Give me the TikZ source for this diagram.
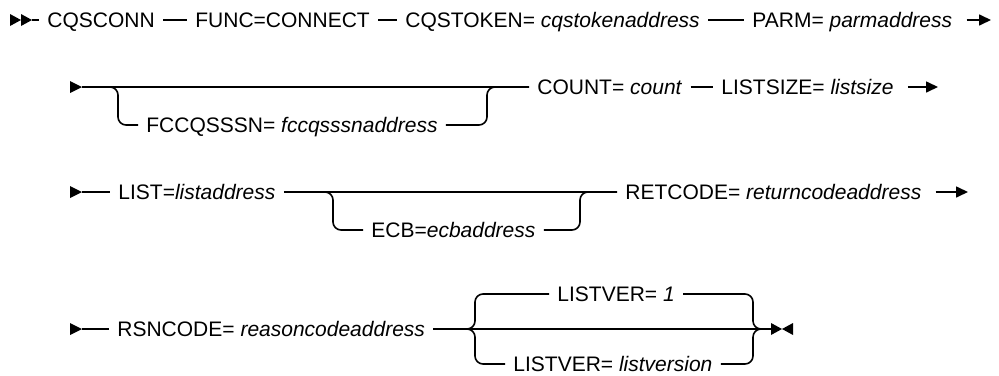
\documentclass[tikz,border=0pt]{standalone}
\usepackage{fontspec}
\setmainfont{Liberation Sans}
\usetikzlibrary{arrows.meta}

\begin{document}
\begin{tikzpicture}[x=0.5pt,y=-0.5pt,
    rail/.style={line width=0.8pt},
    fork/.style={rail,rounded corners=4pt},
    tok/.style={anchor=west,inner xsep=4pt,inner ysep=0pt,text height=7.5pt,text depth=0pt,
                font=\fontsize{10.5}{12}\selectfont},
    goon/.style={rail,-{Triangle[length=6pt,width=5.5pt]}}]
\useasboundingbox (0,0) rectangle (999,375);

% row 1
\coordinate (s1) at (32,20);
\coordinate (e1) at (991,20);
\node[tok] (cqsconn) at (39,20) {CQSCONN};
\node[tok] (func) at (187,20) {FUNC=CONNECT};
\node[tok] (token) at (397,20) {CQSTOKEN= \textit{cqstokenaddress}};
\node[tok] (parm) at (744,20) {PARM= \textit{parmaddress}};
\fill (10,14) -- (21,20) -- (10,26) -- cycle;
\fill (21,14) -- (32,20) -- (21,26) -- cycle;
\draw[rail] (s1) -- (cqsconn);
\draw[rail] (cqsconn) -- (func);
\draw[rail] (func) -- (token);
\draw[rail] (token) -- (parm);
\draw[goon,shorten <=3pt] (parm) -- (e1);

% row 2
\coordinate (s2) at (82,87);
\coordinate (b2l) at (106,87);
\coordinate (b2r) at (487,87);
\coordinate (e2) at (938,87);
\node[tok] (fcc) at (138,125) {FCCQSSSN= \textit{fccqsssnaddress}};
\node[tok] (count) at (529,87) {COUNT= \textit{count}};
\node[tok] (lsize) at (713,87) {LISTSIZE= \textit{listsize}};
\fill (70,81) -- (82,87) -- (70,93) -- cycle;
\draw[rail] (s2) -- (count);
\draw[fork] (b2l) -| (118,125) -- (fcc);
\draw[fork] (fcc) -| (b2r) -- (count);
\draw[rail] (count) -- (lsize);
\draw[goon,shorten <=3pt] (lsize) -- (e2);

% row 3
\coordinate (s3) at (82,192);
\coordinate (b3l) at (320,192);
\coordinate (b3r) at (580,192);
\coordinate (e3) at (968,192);
\node[tok] (list) at (110,192) {LIST=\textit{listaddress}};
\node[tok] (ecb) at (363,230) {ECB=\textit{ecbaddress}};
\node[tok] (ret) at (617,192) {RETCODE= \textit{returncodeaddress}};
\fill (70,186) -- (82,192) -- (70,198) -- cycle;
\draw[rail] (s3) -- (list);
\draw[rail] (list) -- (ret);
\draw[fork] (b3l) -| (333,230) -- (ecb);
\draw[fork] (ecb) -| (b3r) -- (ret);
\draw[goon,shorten <=3pt] (ret) -- (e3);

% row 4
\coordinate (s4) at (82,329);
\coordinate (b4l) at (462,329);
\coordinate (b4r) at (753,329);
\coordinate (e4) at (771,329);
\node[tok] (rsn) at (109,329) {RSNCODE= \textit{reasoncodeaddress}};
\node[tok] (ver1) at (549,294) {LISTVER= \textit{1}};
\node[tok] (ver2) at (505,364) {LISTVER= \textit{listversion}};
\fill (70,323) -- (82,329) -- (70,335) -- cycle;
\draw[rail] (s4) -- (rsn);
\draw[rail] (rsn) -- (e4);
\draw[fork] (b4l) -| (475,294) -- (ver1);
\draw[fork] (b4l) -| (475,364) -- (ver2);
\draw[fork] (ver1) -| (b4r) -- (e4);
\draw[fork] (ver2) -| (b4r) -- (e4);
\fill (771,323) -- (782,329) -- (771,335) -- cycle;
\fill (793,323) -- (782,329) -- (793,335) -- cycle;
\end{tikzpicture}
\end{document}
